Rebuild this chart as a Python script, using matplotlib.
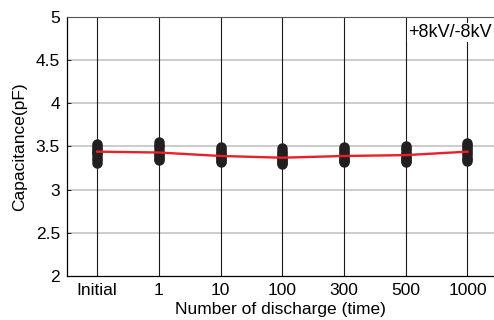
import matplotlib as mpl
mpl.use("Agg")
import matplotlib.pyplot as plt

# categories on the x axis
CATS = ["Initial", "1", "10", "100", "300", "500", "1000"]
# measured capacitance of each sample (pF), one list per category
SAMPLES = [
    [3.53, 3.51, 3.48, 3.46, 3.44, 3.42, 3.40, 3.37, 3.34, 3.31],
    [3.55, 3.52, 3.50, 3.47, 3.44, 3.42, 3.40, 3.38, 3.36, 3.34],
    [3.49, 3.47, 3.45, 3.43, 3.41, 3.39, 3.37, 3.35, 3.33, 3.32],
    [3.48, 3.45, 3.43, 3.40, 3.38, 3.36, 3.34, 3.32, 3.31, 3.30],
    [3.49, 3.47, 3.45, 3.42, 3.40, 3.38, 3.36, 3.34, 3.33, 3.32],
    [3.50, 3.48, 3.46, 3.43, 3.41, 3.39, 3.37, 3.35, 3.33, 3.32],
    [3.54, 3.52, 3.49, 3.47, 3.45, 3.42, 3.40, 3.37, 3.35, 3.33],
]
# average curve (pF)
MEAN = [3.44, 3.43, 3.39, 3.37, 3.39, 3.40, 3.44]
YTICKS = [2, 2.5, 3, 3.5, 4, 4.5, 5]
YTICKLABELS = ["2", "2.5", "3", "3.5", "4", "4.5", "5"]

plt.rcParams["font.family"] = ["Liberation Sans", "DejaVu Sans"]

fig = plt.figure(figsize=(4.94, 3.2), dpi=100)
ax = fig.add_axes([0.1356, 0.1375, 0.8644, 0.8095])

x = list(range(len(CATS)))
for xi in x:
    ax.axvline(xi, color="#1a1a1a", lw=0.8, zorder=1)
for yv in YTICKS[1:-1]:
    ax.axhline(yv, color="#c8c8c8", lw=1.3, zorder=0)

for xi, vals in zip(x, SAMPLES):
    ax.plot([xi] * len(vals), vals, "o", ms=6.5, color="#231f20", ls="none", zorder=3)
ax.plot(x, MEAN, color="#e8202a", lw=1.7, zorder=4)

ax.set_xlim(-0.49, 6.43)
ax.set_ylim(2, 5)
ax.set_xticks(x)
ax.set_xticklabels(CATS, fontsize=12.5)
ax.set_yticks(YTICKS)
ax.set_yticklabels(YTICKLABELS, fontsize=12.5)
ax.tick_params(axis="x", length=0, pad=5)
ax.tick_params(axis="y", direction="in", length=3, width=0.6, pad=5)
ax.set_xlabel("Number of discharge (time)", fontsize=12.5, labelpad=3)
ax.set_ylabel("Capacitance(pF)", fontsize=12.5, labelpad=6)

ax.spines["right"].set_visible(False)
ax.spines["top"].set_color("#555555")
ax.spines["left"].set_linewidth(0.9)
ax.spines["bottom"].set_linewidth(0.9)

ax.text(0.995, 0.94, "+8kV/-8kV", transform=ax.transAxes, ha="right", va="center",
        fontsize=13, zorder=5,
        bbox=dict(boxstyle="square,pad=0.05", fc="white", ec="none"))

fig.savefig("out.png", dpi=100)
